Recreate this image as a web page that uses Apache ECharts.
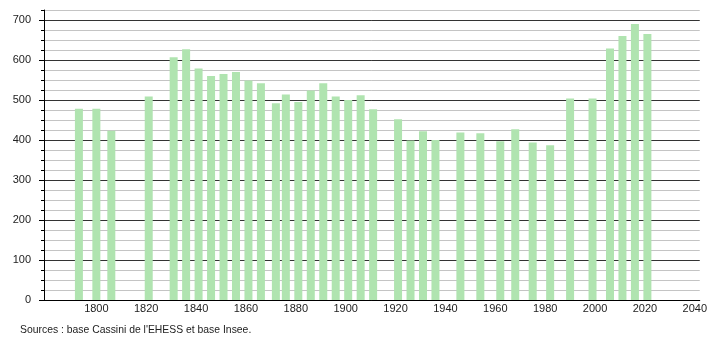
<!DOCTYPE html>
<html>
<head>
<meta charset="utf-8">
<script src="https://cdn.jsdelivr.net/npm/echarts@6/dist/echarts.min.js"></script>
<style>html,body{margin:0;padding:0;background:#fff}#c{width:710px;height:340px}</style>
</head>
<body>
<div id="c"></div>
<script>
var years = [1793,1800,1806,1821,1831,1836,1841,1846,1851,1856,1861,1866,1872,1876,1881,1886,1891,1896,1901,1906,1911,1921,1926,1931,1936,1946,1954,1962,1968,1975,1982,1990,1999,2006,2011,2016,2021];
var population = [478,478,423,509,607,627,579,560,565,570,549,542,492,514,495,524,542,509,500,512,477,452,399,422,400,419,417,397,427,394,387,504,504,629,660,690,665];
var xTickLabels = [1800,1820,1840,1860,1880,1900,1920,1940,1960,1980,2000,2020,2040];
var yTickLabels = [0,100,200,300,400,500,600,700];
var sourceText = "Sources : base Cassini de l'EHESS et base Insee.";

var chart = echarts.init(document.getElementById('c'), null, {renderer: 'canvas'});
var data = years.map(function (y, i) { return [y, population[i]]; });
var font = 'Liberation Sans, Arial, sans-serif';
chart.setOption({
  animation: false,
  title: {
    text: sourceText, left: 20, top: 325, padding: 0,
    textStyle: {fontSize: 10.4, fontWeight: 'normal', color: '#222', fontFamily: font}
  },
  grid: {left: 44, right: 9, top: 10, bottom: 40, containLabel: false},
  xAxis: {
    type: 'value', min: 1779, max: 2042,
    axisLine: {show: true, lineStyle: {color: '#000', width: 1}},
    axisTick: {show: false},
    splitLine: {show: false},
    axisLabel: {customValues: xTickLabels, fontSize: 11, color: '#222', fontFamily: font, margin: 3,
      formatter: function (v) { return String(v); }}
  },
  yAxis: [{
    type: 'value', min: 0, max: 725, interval: 25, position: 'left',
    axisLine: {show: true, lineStyle: {color: '#000', width: 1}},
    axisTick: {show: true, length: 3, lineStyle: {color: '#000'}},
    axisLabel: {show: false},
    splitLine: {show: true, lineStyle: {color: ['#333', '#c4c4c4', '#c4c4c4', '#c4c4c4'], width: 1}}
  }, {
    type: 'value', min: 0, max: 725, position: 'left', offset: 0,
    axisLine: {show: false},
    axisTick: {show: true, length: 5, customValues: yTickLabels, lineStyle: {color: '#000'}},
    axisLabel: {customValues: yTickLabels, fontSize: 11, color: '#222', fontFamily: font, margin: 13,
      formatter: function (v) { return String(v); }},
    splitLine: {show: false}
  }],
  series: [{
    type: 'bar', yAxisIndex: 0, data: data, barWidth: 8,
    itemStyle: {color: '#b0e4b0'}
  }]
});
</script>
</body>
</html>
